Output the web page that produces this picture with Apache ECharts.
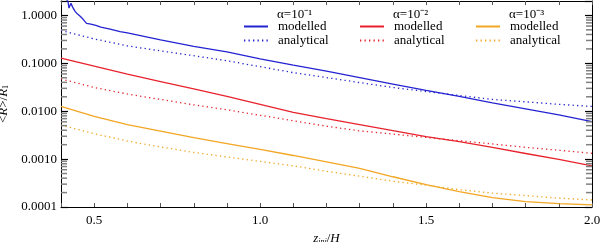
<!DOCTYPE html>
<html><head><meta charset="utf-8">
<script src="https://cdn.jsdelivr.net/npm/echarts@6/dist/echarts.min.js"></script>
<style>html,body{margin:0;padding:0;background:#fff}#c{width:600px;height:242px}</style>
</head><body><div id="c"></div>
<script>
// ---- data ----
const z = [0.4,0.5,0.6,0.7,0.8,0.9,1.0,1.1,1.2,1.3,1.4,1.5,1.6,1.7,1.8,1.9,2.0];
const zBlueModelled = [0.400,0.405,0.410,0.415,0.421,0.424,0.430,0.435,0.442,0.449,0.457,0.466,0.477,0.490,0.505,0.520,0.548,0.578,0.6,0.7,0.8,0.9,1.0,1.1,1.2,1.3,1.4,1.5,1.6,1.7,1.8,1.9,2.0];
const blueModelled = [3.2,2.4,2.9,2.2,1.98,1.42,1.80,1.49,1.23,1.08,0.97,0.84,0.68,0.66,0.62,0.57,0.52,0.46,0.430,0.308,0.226,0.174,0.124,0.0914,0.0686,0.0504,0.0369,0.0271,0.0203,0.0149,0.0112,0.00841,0.00604];
const blueAnalytical = [0.484,0.323,0.231,0.182,0.144,0.113,0.0851,0.0638,0.0504,0.0396,0.0313,0.0258,0.0213,0.0176,0.0157,0.0139,0.0126];
const redModelled = [0.129,0.0871,0.0594,0.0416,0.0291,0.0203,0.0139,0.00948,0.00697,0.00522,0.00393,0.00295,0.00232,0.00175,0.00131,0.000986,0.000723];
const redAnalytical = [0.0473,0.0313,0.0229,0.0176,0.0136,0.0107,0.00822,0.00632,0.00486,0.00389,0.00333,0.00284,0.00242,0.00207,0.00176,0.00153,0.00132];
const orangeModelled = [0.0126,0.00783,0.00522,0.00384,0.00281,0.00211,0.00159,0.00119,0.000876,0.000641,0.000428,0.000292,0.000210,0.000157,0.000130,0.000118,0.000111];
const orangeAnalytical = [0.00511,0.00340,0.00238,0.00179,0.00138,0.00111,0.000895,0.000723,0.000556,0.000439,0.000345,0.000285,0.000230,0.000195,0.000173,0.000153,0.000140];
const groupTitles = ['α=10⁻¹','α=10⁻²','α=10⁻³'];
const itemLabels = ['modelled','analytical'];
const yMinorTicks = [];
[1e-4,1e-3,1e-2,1e-1,1].forEach(d=>{for(let m=2;m<=9;m++){const v=m*d; if(v<2) yMinorTicks.push(+v.toPrecision(3));}});

// ---- chart ----
const FONT = 'Liberation Serif';
const FS = 13;
const colors = ['#2323d2','#e8222c','#f2a623'];
const chart = echarts.init(document.getElementById('c'), null, {renderer:'canvas'});
function pairs(xs, ys){ return xs.map((x,i)=>[x, ys[i]]); }
const seriesDefs = [
  {key:'a1|modelled', xs:zBlueModelled, ys:blueModelled, c:0, dot:false},
  {key:'a1|analytical', xs:z, ys:blueAnalytical, c:0, dot:true},
  {key:'a2|modelled', xs:z, ys:redModelled, c:1, dot:false},
  {key:'a2|analytical', xs:z, ys:redAnalytical, c:1, dot:true},
  {key:'a3|modelled', xs:z, ys:orangeModelled, c:2, dot:false},
  {key:'a3|analytical', xs:z, ys:orangeAnalytical, c:2, dot:true}
];
const series = seriesDefs.map(d=>({
  type:'line', name:d.key, data:pairs(d.xs,d.ys), symbol:'none', smooth:false, clip:true,
  color:colors[d.c],
  lineStyle:{color:colors[d.c], width:1.3, type:d.dot?[1.3,3.2]:'solid'},
  silent:true, animation:false
}));
series.push({
  type:'custom', silent:true, clip:false, animation:false, z:5,
  data: yMinorTicks.map(v=>[0.4, v]),
  renderItem:(params, api)=>{
    const v = api.value(1);
    const pl = api.coord([0.4, v]);
    const pr = api.coord([2.0, v]);
    return {type:'group', children:[
      {type:'line', shape:{x1:pl[0], y1:pl[1], x2:pl[0]+6, y2:pl[1]}, style:{stroke:'#808080', lineWidth:1.5}},
      {type:'line', shape:{x1:pr[0], y1:pr[1], x2:pr[0]-6, y2:pr[1]}, style:{stroke:'#808080', lineWidth:1.5}}
    ]};
  }
});
const legendLeft = [243, 359, 475];
const xAxisCommon = {
  type:'value', min:0.4, max:2.0, interval:0.1,
  axisLine:{show:true, onZero:false, lineStyle:{color:'#000', width:1}},
  axisTick:{show:true, inside:true, length:4, lineStyle:{color:'#555'}},
  splitLine:{show:false}
};
const isPow10 = v => { const l = Math.log10(v); return Math.abs(l-Math.round(l))<1e-6; };
const yAxisCommon = {
  type:'log', logBase:10, min:0.0001, max:2,
  axisLine:{show:true, onZero:false, lineStyle:{color:'#000', width:1}},
  axisTick:{show:true, inside:true, length:7, lineStyle:{color:'#000', width:1.2}},
  splitLine:{show:false}, minorTick:{show:false}
};
chart.setOption({
  animation:false,
  backgroundColor:'#fff',
  grid:{left:61, right:8, top:1, bottom:35, containLabel:false, outerBoundsMode:'none'},
  title: groupTitles.map((t,i)=>({text:t, left:legendLeft[i]+34, top:8, padding:0,
    textStyle:{fontFamily:FONT, fontSize:FS, fontWeight:'normal', color:'#000'}})),
  legend: groupTitles.map((t,i)=>({
    left:legendLeft[i], top:20, orient:'vertical', padding:0,
    itemWidth:24, itemHeight:12, itemGap:1, selectedMode:false,
    itemStyle:{opacity:0},
    data: itemLabels.map(l=>'a'+(i+1)+'|'+l),
    formatter: n=>n.split('|')[1],
    textStyle:{fontFamily:FONT, fontSize:FS, color:'#000', padding:[0,0,0,5]}
  })),
  xAxis:[
    Object.assign({}, xAxisCommon, {position:'bottom',
      name:'{i|z}{s|inj}{n|/}{i|H}', nameLocation:'middle', nameGap:24,
      nameTextStyle:{fontFamily:FONT, fontSize:FS, color:'#000', rich:{
        i:{fontFamily:FONT, fontStyle:'italic', fontSize:FS, color:'#000'},
        n:{fontFamily:FONT, fontSize:FS, color:'#000'},
        s:{fontFamily:FONT, fontStyle:'italic', fontSize:8, color:'#000', verticalAlign:'bottom', padding:[6,0,0,0]}}},
      axisLabel:{show:true, margin:7, fontFamily:FONT, fontSize:FS, color:'#000',
        formatter:v=>{const r=Math.round(v*10); return r%5===0 ? (r/10).toFixed(1) : '';}}}),
    Object.assign({}, xAxisCommon, {position:'top', axisLabel:{show:false}})
  ],
  yAxis:[
    Object.assign({}, yAxisCommon, {position:'left',
      name:'{n|<}{i|R}{n|>/}{i|R}{s|1}', nameLocation:'middle', nameGap:47, nameRotate:90,
      nameTextStyle:{fontFamily:FONT, fontSize:FS, color:'#000', rich:{
        i:{fontFamily:FONT, fontStyle:'italic', fontSize:FS, color:'#000'},
        n:{fontFamily:FONT, fontSize:FS, color:'#000'},
        s:{fontFamily:FONT, fontSize:8, color:'#000', verticalAlign:'bottom', padding:[6,0,0,0]}}},
      axisLabel:{show:true, margin:4, fontFamily:FONT, fontSize:FS, color:'#000',
        formatter:v=> isPow10(v) ? v.toFixed(4) : ''}}),
    Object.assign({}, yAxisCommon, {position:'right', axisLabel:{show:false}})
  ],
  series: series
});
</script>
</body></html>
